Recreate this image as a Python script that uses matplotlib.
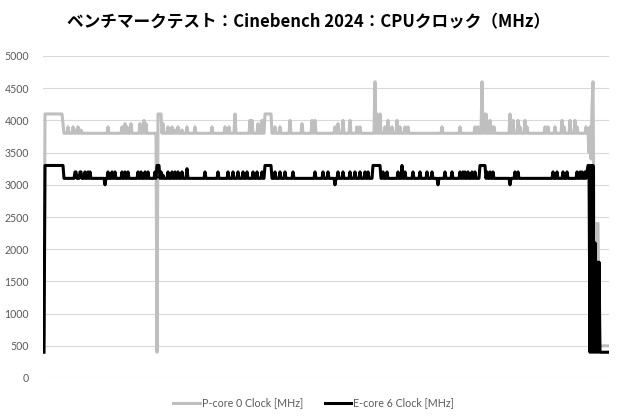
import matplotlib
matplotlib.use("Agg")
import matplotlib.pyplot as plt
import numpy as np

# Sample count of the logged run (one sample per step on the x axis)
N_SAMPLES = 565

# P-core 0 clock: idle level plus (first, last, MHz) stretches
P_CORE_BASE = 3800
P_CORE_SEGMENTS = [
    (0, 0, 600), (1, 18, 4100), (19, 19, 3950),
    (24, 24, 3900), (29, 29, 3900), (32, 32, 3850), (34, 34, 3900), (37, 37, 3850),
    (64, 64, 3900), (78, 78, 3900), (81, 81, 3950), (83, 83, 3900), (87, 87, 3950),
    (96, 96, 3950), (100, 100, 4000), (102, 102, 3950),
    (113, 113, 400), (114, 117, 4100), (119, 119, 3950),
    (124, 124, 3900), (128, 128, 3900), (131, 131, 3850), (134, 134, 3900), (138, 138, 3850),
    (143, 143, 3900), (151, 151, 3900), (168, 168, 3900), (181, 181, 3900), (185, 185, 3900),
    (191, 191, 4100), (206, 206, 4000), (208, 208, 4000), (214, 214, 3950), (218, 218, 4000),
    (221, 227, 4100), (231, 231, 3900), (236, 236, 3900), (246, 246, 4000), (258, 258, 3950),
    (268, 268, 4000), (271, 271, 4000),
    (291, 291, 3900), (294, 294, 3950), (299, 299, 4000), (306, 306, 4000), (313, 313, 3900),
    (316, 316, 3900), (331, 331, 4600), (333, 333, 4100), (336, 336, 4100),
    (341, 341, 3900), (344, 344, 4000), (348, 348, 3900), (353, 353, 4000), (356, 356, 3900),
    (361, 361, 3900), (364, 364, 3900), (398, 398, 3900), (416, 416, 3900),
    (431, 431, 3900), (434, 434, 3900), (438, 438, 4600), (440, 440, 4100), (442, 442, 4100),
    (446, 446, 4000), (448, 448, 3900), (450, 450, 3900), (466, 466, 4100), (469, 469, 4000),
    (474, 474, 4000), (476, 476, 3900), (481, 481, 4000), (483, 483, 3900),
    (501, 501, 3900), (504, 504, 3900), (511, 511, 3900), (518, 518, 4000), (520, 520, 3900),
    (526, 526, 4000), (531, 531, 4000), (533, 533, 3900), (542, 542, 3900), (544, 544, 3850),
    (545, 545, 3500), (546, 546, 3900), (547, 547, 3400), (548, 548, 4200), (549, 549, 4600),
    (550, 551, 2400), (552, 552, 2000), (553, 554, 2400), (555, 564, 500),
]

# E-core 6 clock
E_CORE_BASE = 3100
E_CORE_SEGMENTS = [
    (0, 0, 400), (1, 19, 3300),
    (31, 32, 3200), (36, 37, 3200), (41, 41, 3200), (44, 44, 3200), (46, 46, 3200),
    (61, 61, 3000), (64, 64, 3200), (68, 68, 3200), (71, 71, 3200),
    (78, 78, 3200), (81, 81, 3200), (84, 84, 3200),
    (94, 94, 3200), (97, 97, 3200), (101, 101, 3200), (104, 104, 3200),
    (111, 111, 3200), (113, 115, 3300), (117, 117, 3200), (119, 119, 3150),
    (124, 124, 3200), (128, 128, 3200), (131, 131, 3200), (134, 134, 3200), (138, 138, 3200),
    (143, 143, 3250), (161, 161, 3200), (174, 174, 3200),
    (184, 184, 3200), (189, 189, 3200), (194, 194, 3200), (199, 199, 3200), (203, 203, 3200),
    (209, 209, 3200), (213, 213, 3200), (218, 218, 3200), (221, 227, 3300),
    (231, 231, 3200), (236, 236, 3200), (241, 241, 3200), (249, 249, 3200),
    (271, 271, 3200), (279, 279, 3200), (284, 284, 3200), (291, 291, 3000),
    (294, 294, 3200), (299, 299, 3200), (306, 306, 3200), (311, 311, 3200), (316, 316, 3200),
    (321, 321, 3200), (324, 324, 3200), (329, 336, 3300), (339, 339, 3200), (343, 343, 3200),
    (354, 354, 3200), (358, 358, 3300), (361, 361, 3200), (369, 369, 3200), (376, 376, 3200),
    (383, 383, 3200), (388, 388, 3200), (394, 394, 3000),
    (401, 401, 3200), (408, 408, 3200), (416, 416, 3200), (419, 419, 3200), (421, 421, 3200),
    (424, 424, 3200), (428, 428, 3200), (431, 431, 3200), (436, 441, 3300),
    (443, 443, 3200), (446, 446, 3200), (449, 449, 3200), (466, 466, 3000),
    (471, 471, 3200), (474, 474, 3200), (509, 509, 3200), (513, 513, 3200),
    (519, 519, 3200), (523, 523, 3200), (533, 533, 3200), (536, 536, 3200),
    (538, 538, 3200), (541, 541, 3200), (543, 543, 3200), (544, 545, 3300),
    (546, 546, 400), (547, 547, 3300), (548, 548, 400), (549, 549, 3300), (550, 550, 400),
    (551, 551, 2100), (552, 552, 400), (553, 553, 1800), (554, 554, 400), (555, 555, 1800),
    (556, 564, 400),
]

SERIES_NAMES = ["P-core 0 Clock [MHz]", "E-core 6 Clock [MHz]"]
TITLE = "ベンチマークテスト：Cinebench 2024：CPUクロック（MHz）"
Y_TICKS = list(range(0, 5001, 500))


def build_series(base, segments):
    values = np.full(N_SAMPLES, float(base))
    for first, last, mhz in segments:
        values[first:last + 1] = mhz
    return values


def main():
    p_core = build_series(P_CORE_BASE, P_CORE_SEGMENTS)
    e_core = build_series(E_CORE_BASE, E_CORE_SEGMENTS)
    x = np.arange(N_SAMPLES)

    fig = plt.figure(figsize=(6.2, 4.2), dpi=100)
    ax = fig.add_axes([43 / 620, 1 - 378 / 420, 566 / 620, 322 / 420])

    ax.plot(x, p_core, color="#bfbfbf", lw=2.2, solid_joinstyle="round",
            label=SERIES_NAMES[0])
    ax.plot(x, e_core, color="#000000", lw=2.2, solid_joinstyle="round",
            label=SERIES_NAMES[1])

    ax.set_xlim(-1, N_SAMPLES)
    ax.set_ylim(0, 5000)
    ax.set_yticks(Y_TICKS)
    ax.set_yticklabels([str(v) for v in Y_TICKS], family="Lato", fontsize=7.6,
                       color="#595959")
    ax.set_xticks([])
    ax.tick_params(axis="y", length=0, pad=10)
    ax.grid(axis="y", color="#d9d9d9", lw=0.8)
    ax.set_axisbelow(True)
    for spine in ax.spines.values():
        spine.set_visible(False)

    fig.text(0.497, 1 - 22 / 420, TITLE, ha="center", va="center",
             family=["Noto Sans CJK JP", "DejaVu Sans"], fontsize=12,
             fontweight="bold", color="#000000")

    fig.legend(loc="center", bbox_to_anchor=(0.506, 1 - 403 / 420), ncol=2,
               frameon=False, prop={"family": "Lato", "size": 7.7},
               labelcolor="#595959", handlelength=2.5, handletextpad=0.2,
               columnspacing=2.0)

    fig.savefig("out.png", dpi=100)
    plt.close(fig)


if __name__ == "__main__":
    main()
